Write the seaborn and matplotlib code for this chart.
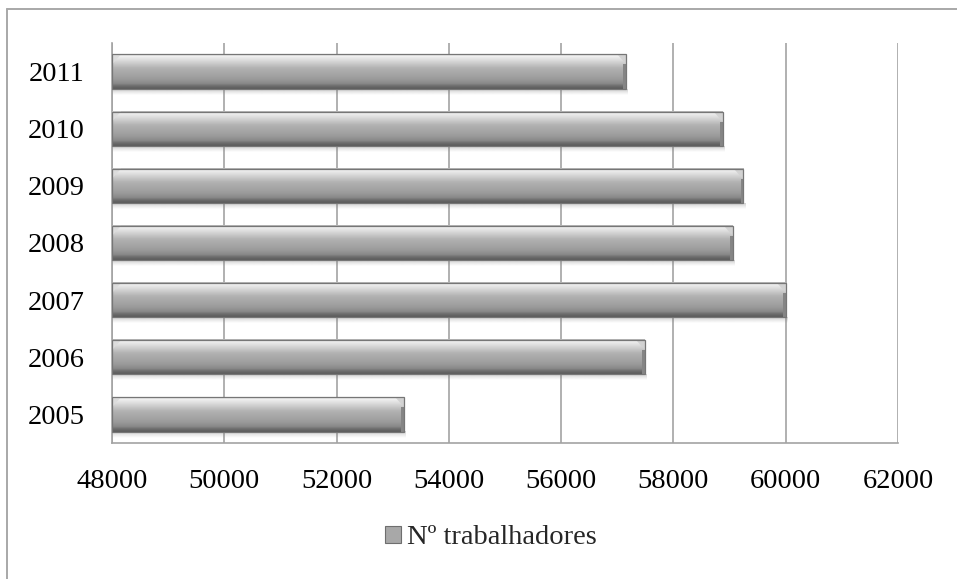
import numpy as np
import pandas as pd
import matplotlib
matplotlib.use("Agg")
import matplotlib.pyplot as plt
from matplotlib.colors import LinearSegmentedColormap, to_rgb
from matplotlib.patches import Polygon, Rectangle, Patch
from matplotlib.lines import Line2D
import seaborn as sns

# Workers per year
years = ["2011", "2010", "2009", "2008", "2007", "2006", "2005"]
workers = [57150, 58880, 59240, 59060, 60000, 57490, 53200]
series_name = "Nº trabalhadores"
x_ticks = [48000, 50000, 52000, 54000, 56000, 58000, 60000, 62000]

df = pd.DataFrame({"ano": years, "trabalhadores": workers})

sns.set_theme(style="white")
plt.rcParams["font.family"] = ["Liberation Serif", "DejaVu Serif"]

W, H = 957, 579
fig = plt.figure(figsize=(W / 100, H / 100), dpi=100)
fig.patch.set_facecolor("white")
ax = fig.add_axes([112 / W, 1 - 443 / H, (898 - 112) / W, (443 - 43) / H])

bar_h = 0.6
sns.barplot(data=df, x="trabalhadores", y="ano", order=years, orient="h",
            width=bar_h, color="#a8a8a8", saturation=1, ax=ax,
            edgecolor="none", zorder=2)

xmin, xmax = x_ticks[0], x_ticks[-1]
ax.set_xlim(xmin, xmax)
ylim = ax.get_ylim()

# shaded vertical profile of each bar
body = LinearSegmentedColormap.from_list("body", [
    (0.00, "#a0a0a0"), (0.04, "#f4f4f4"), (0.13, "#e4e4e4"),
    (0.40, "#b2b2b2"), (0.70, "#9c9c9c"), (0.84, "#8a8a8a"),
    (0.91, "#6e6e6e"), (1.00, "#5a5a5a")])
grad = np.linspace(0, 1, 200).reshape(-1, 1)

shadow = np.zeros((40, 1, 4))
shadow[..., :3] = to_rgb("#7a7a7a")
shadow[:, 0, 3] = np.linspace(0.35, 0.0, 40)

units_per_px_x = (xmax - xmin) / (898 - 112)
units_per_px_y = (ylim[0] - ylim[1]) / (443 - 43)
bx = 9 * units_per_px_x
by = 10 * units_per_px_y
sh = 6 * units_per_px_y

for p in list(ax.patches):
    y0 = p.get_y()
    h = p.get_height()
    top, bot = y0, y0 + h          # y axis is inverted: smaller value is on top
    x0 = max(p.get_x(), xmin)
    x1 = p.get_x() + p.get_width()
    ax.imshow(grad, cmap=body, aspect="auto", origin="upper",
              extent=(x0, x1, bot, top), zorder=2.5, interpolation="bilinear")
    # soft drop shadow under the bar
    ax.imshow(shadow, aspect="auto", origin="upper",
              extent=(x0, x1 + 2 * units_per_px_x, bot + sh, bot), zorder=1.8,
              interpolation="bilinear")
    # bevelled ends
    ax.add_patch(Polygon([(x1 - bx, top), (x1, top), (x1, top + by)],
                         closed=True, facecolor="#d2d2d2", edgecolor="none", zorder=2.7))
    ax.add_patch(Polygon([(x1 - 2.5 * units_per_px_x, top + by), (x1, top + by),
                          (x1, bot), (x1 - 2.5 * units_per_px_x, bot)],
                         closed=True, facecolor="#858585", edgecolor="none", zorder=2.7))
    ax.add_patch(Polygon([(x0, top), (x0 + bx, top), (x0, top + by)],
                         closed=True, facecolor="#dcdcdc", edgecolor="none", zorder=2.7))
    ax.add_patch(Rectangle((x0, top), x1 - x0, h, facecolor="none",
                           edgecolor="#767676", lw=0.9, zorder=3))

ax.set_ylim(ylim)
ax.set_xlim(xmin, xmax)
ax.set_xticks(x_ticks)
ax.set_xticklabels([str(t) for t in x_ticks])
ax.set_xlabel("")
ax.set_ylabel("")

ax.grid(axis="x", color="#a3a3a3", lw=1.2, zorder=0)
ax.grid(axis="y", visible=False)
ax.set_axisbelow(True)
for side in ["top", "right"]:
    ax.spines[side].set_visible(False)
for side in ["left", "bottom"]:
    ax.spines[side].set_color("#a3a3a3")
    ax.spines[side].set_linewidth(1.2)

ax.tick_params(axis="x", length=0, pad=19, labelsize=20.5, labelcolor="black")
ax.tick_params(axis="y", length=0, pad=19.5, labelsize=20.5, labelcolor="black")

# chart frame
fig.add_artist(Line2D([7 / W, 7 / W], [0, 1 - 9 / H], color="#a8a8a8", lw=1.4))
fig.add_artist(Line2D([7 / W, 1], [1 - 9 / H, 1 - 9 / H], color="#a8a8a8", lw=1.4))

handle = Patch(facecolor="#a8a8a8", edgecolor="#6e6e6e", lw=0.8)
fig.legend([handle], [series_name], loc="center",
           bbox_to_anchor=(491 / W, 1 - 538 / H), frameon=False,
           fontsize=20.5, handlelength=0.55, handleheight=0.55,
           handletextpad=0.2, borderpad=0, borderaxespad=0)

fig.savefig("out.png", dpi=100, facecolor="white")
